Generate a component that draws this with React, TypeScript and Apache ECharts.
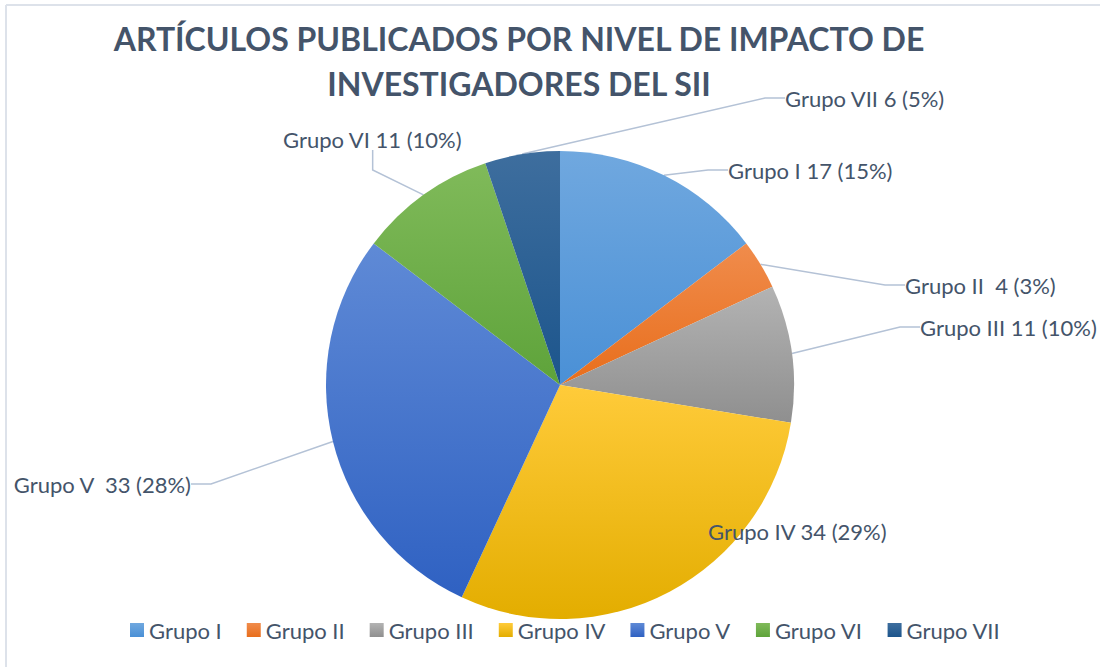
import React, { useEffect, useRef } from "react";
import * as echarts from "echarts";

const categories = ["Grupo I", "Grupo II", "Grupo III", "Grupo IV", "Grupo V", "Grupo VI", "Grupo VII"];
const values = [17, 4, 11, 34, 33, 11, 6];
const labelSeparators = [" ", "  ", " ", " ", "  ", " ", " "];
const showLabelLine = [true, true, true, false, true, true, true];
const lightColors = ["#70A8DF", "#F08C4C", "#B3B3B3", "#FFCB3A", "#5F8AD6", "#80BA5A", "#3E6E9E"];
const darkColors = ["#4A90D6", "#E86E1C", "#8F8F8F", "#E3AD00", "#2F61C2", "#5EA33A", "#1C558C"];
const titleLines = ["ARTÍCULOS PUBLICADOS POR NIVEL DE IMPACTO DE", "INVESTIGADORES DEL SII"];

const labelPlacement = [
  { x: 728, y: 170, align: "left" },
  { x: 905, y: 285, align: "left" },
  { x: 920, y: 327, align: "left" },
  { x: 708, y: 531, align: "left" },
  { x: 191, y: 484, align: "right" },
  { x: 283, y: 139, align: "left" },
  { x: 785, y: 98, align: "left" },
];

const FONT = "Lato, 'Open Sans', sans-serif";
const TEXT = "#44546A";

export default function App() {
  const ref = useRef<HTMLDivElement>(null);
  useEffect(() => {
    document.body.style.margin = "0";
    const chart = echarts.init(ref.current!, null, { renderer: "svg" });
    const data = categories.map((name, i) => ({
      name,
      value: values[i],
      labelLine: { show: showLabelLine[i] },
      itemStyle: {
        color: new echarts.graphic.LinearGradient(0, 0, 0, 1, [
          { offset: 0, color: lightColors[i] },
          { offset: 1, color: darkColors[i] },
        ]),
      },
    }));
    chart.setOption({
      animation: false,
      backgroundColor: "#ffffff",
      title: {
        text: titleLines.join("\n"),
        left: 514,
        top: 11,
        textAlign: "center",
        textStyle: {
          fontFamily: FONT,
          fontWeight: "bold",
          fontSize: 32,
          lineHeight: 45,
          color: TEXT,
        },
      },
      legend: {
        bottom: 21,
        left: 125,
        icon: "rect",
        itemWidth: 14,
        itemHeight: 14,
        itemGap: 25,
        data: categories,
        textStyle: { fontFamily: FONT, fontSize: 22, color: TEXT },
      },
      graphic: [
        { type: "line", shape: { x1: 6, y1: 5, x2: 6, y2: 667 }, style: { stroke: "#DDE2EA", lineWidth: 2 } },
        { type: "line", shape: { x1: 6, y1: 5, x2: 1100, y2: 5 }, style: { stroke: "#DDE2EA", lineWidth: 2 } },
      ],
      series: [
        {
          type: "pie",
          center: [560, 385],
          radius: 234,
          startAngle: 90,
          clockwise: true,
          percentPrecision: 0,
          emphasis: { disabled: true },
          label: {
            show: true,
            position: "outside",
            fontFamily: FONT,
            fontSize: 22,
            color: TEXT,
            formatter: (p: any) => `${p.name}${labelSeparators[p.dataIndex]}${p.value} (${p.percent}%)`,
          },
          labelLine: {
            show: true,
            length: 20,
            length2: 20,
            lineStyle: { color: "#B4C2D6", width: 1.5 },
          },
          labelLayout: (params: any) => {
            const p = labelPlacement[params.dataIndex];
            return { x: p.x, y: p.y, align: p.align, verticalAlign: "middle" };
          },
          data,
        },
      ],
    });
    return () => chart.dispose();
  }, []);
  return <div ref={ref} style={{ width: 1100, height: 667 }} />;
}
